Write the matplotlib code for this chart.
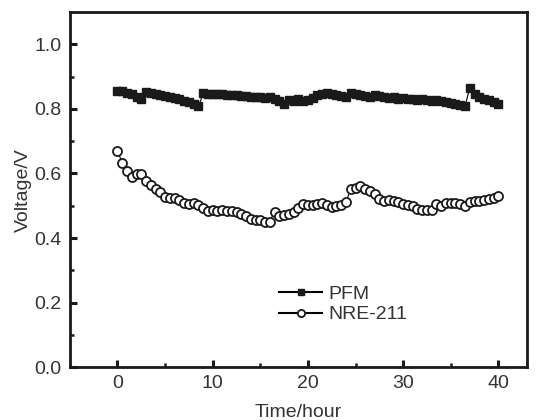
import numpy as np
import matplotlib
matplotlib.use('Agg')
import matplotlib.pyplot as plt

plt.rcParams['font.family'] = ['Liberation Sans', 'DejaVu Sans']

# time axis, one reading every half hour
time_h = np.arange(0, 40.5, 0.5)

pfm_v = [0.856, 0.855, 0.848, 0.845, 0.838, 0.832, 0.852, 0.848, 0.845, 0.842,
         0.840, 0.836, 0.834, 0.830, 0.826, 0.822, 0.815, 0.808, 0.848, 0.847,
         0.846, 0.845, 0.846, 0.843, 0.844, 0.842, 0.840, 0.839, 0.838, 0.836,
         0.837, 0.835, 0.836, 0.830, 0.825, 0.815, 0.828, 0.826, 0.830, 0.825,
         0.828, 0.835, 0.842, 0.846, 0.848, 0.845, 0.842, 0.840, 0.838, 0.850,
         0.845, 0.843, 0.840, 0.838, 0.842, 0.840, 0.838, 0.835, 0.836, 0.832,
         0.834, 0.830, 0.832, 0.828, 0.830, 0.828, 0.826, 0.827, 0.825, 0.822,
         0.820, 0.816, 0.812, 0.808, 0.866, 0.845, 0.838, 0.832, 0.828, 0.822,
         0.816]

nre_v = [0.671, 0.632, 0.607, 0.588, 0.599, 0.597, 0.576, 0.565, 0.552, 0.544,
         0.526, 0.523, 0.525, 0.519, 0.508, 0.504, 0.509, 0.501, 0.494, 0.485,
         0.487, 0.485, 0.487, 0.485, 0.483, 0.480, 0.473, 0.467, 0.460, 0.457,
         0.457, 0.451, 0.451, 0.482, 0.468, 0.470, 0.475, 0.480, 0.494, 0.506,
         0.503, 0.503, 0.504, 0.509, 0.501, 0.496, 0.499, 0.501, 0.511, 0.552,
         0.556, 0.560, 0.552, 0.545, 0.535, 0.521, 0.514, 0.518, 0.516, 0.513,
         0.507, 0.502, 0.498, 0.490, 0.487, 0.487, 0.488, 0.504, 0.498, 0.508,
         0.509, 0.508, 0.504, 0.498, 0.513, 0.514, 0.516, 0.518, 0.521, 0.525,
         0.529]

fig = plt.figure(figsize=(5.46, 4.2), dpi=100)
ax = fig.add_axes([0.128, 0.126, 0.837, 0.845])

ax.plot(time_h, pfm_v, color='black', linewidth=0.8, marker='s',
        markersize=5.5, markerfacecolor='#1a1a1a', markeredgecolor='#1a1a1a',
        label='PFM')
ax.plot(time_h, nre_v, color='black', linewidth=0.8, marker='o',
        markersize=6.5, markerfacecolor='white', markeredgecolor='#1a1a1a',
        markeredgewidth=1.3, label='NRE-211')

ax.set_xlim(-5, 43)
ax.set_ylim(0, 1.1)
ax.set_xticks([0, 10, 20, 30, 40])
ax.set_xticks([5, 15, 25, 35], minor=True)
ax.set_yticks([0.0, 0.2, 0.4, 0.6, 0.8, 1.0])
ax.set_yticks([0.1, 0.3, 0.5, 0.7, 0.9], minor=True)
ax.set_yticklabels(['0.0', '0.2', '0.4', '0.6', '0.8', '1.0'])

for s in ax.spines.values():
    s.set_linewidth(2.0)
    s.set_color('#1a1a1a')

ax.tick_params(which='both', direction='in', top=False, right=False,
               colors='#1a1a1a', labelcolor='#333333', labelsize=14)
ax.tick_params(which='major', length=5, width=2.2, pad=6)
ax.tick_params(which='minor', length=3, width=1.8)

ax.set_xlabel('Time/hour', fontsize=14, color='#333333', labelpad=8)
ax.set_ylabel('Voltage/V', fontsize=14, color='#333333', labelpad=2)

leg = ax.legend(loc='upper left', bbox_to_anchor=(0.42, 0.28), frameon=False,
                fontsize=14, handlelength=2.2, handletextpad=0.3,
                labelspacing=0.15, markerscale=0.8)
for t in leg.get_texts():
    t.set_color('#333333')
for h in leg.get_lines():
    h.set_linewidth(1.5)

fig.savefig('out.png', dpi=100)
